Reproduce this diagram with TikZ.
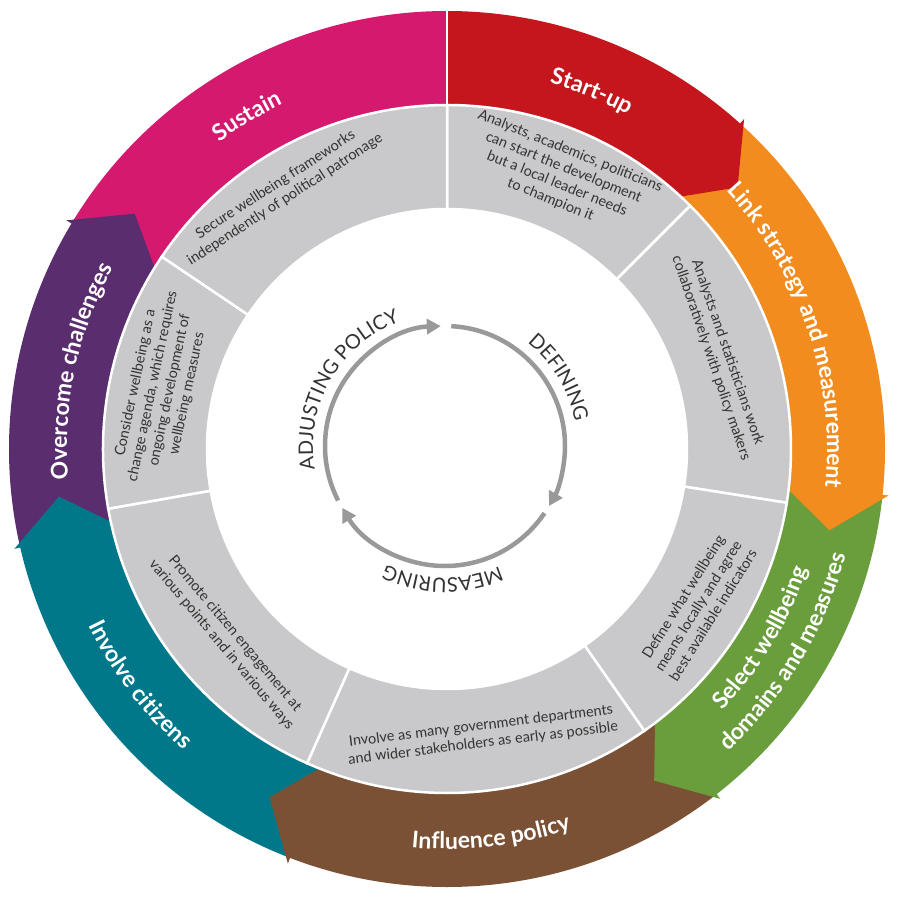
\documentclass[tikz,border=0pt]{standalone}
\usepackage{fontspec}
\setmainfont{Lato}
\usetikzlibrary{decorations.text,arrows.meta}
\definecolor{csus}{HTML}{D4196E}
\definecolor{cstart}{HTML}{C4161C}
\definecolor{clink}{HTML}{F28C1E}
\definecolor{csel}{HTML}{6A9E3C}
\definecolor{cinf}{HTML}{7A5135}
\definecolor{cinv}{HTML}{00788A}
\definecolor{cover}{HTML}{5A2D6E}
\definecolor{cgrey}{HTML}{C9C9CB}
\definecolor{ccirc}{HTML}{999999}
\definecolor{ctxt}{HTML}{333333}
\newcommand\labfont{\fontsize{23}{26}\selectfont\bfseries}
\newcommand\cenfont{\fontsize{20}{22}\selectfont}
% segment with head: start a, boundary b
\newcommand\segh[3]{\fill[#3] ({#1}:438pt) arc[start angle={#1},end angle={#2+3},radius=438pt] -- ({#2+3}:444pt) -- ({#2-3}:391pt) -- ({#2+3}:338pt) -- ({#2+3}:344pt) arc[start angle={#2+3},end angle={#1},radius=344pt] -- cycle;}
\newcommand\greyseg[2]{\filldraw[cgrey,draw=white,line width=2.5pt] ({#1}:344pt) arc[start angle={#1},end angle={#2},radius=344pt] -- ({#2}:240pt) arc[start angle={#2},end angle={#1},radius=240pt] -- cycle;}
\newcommand\cwlab[4]{\path[decorate,decoration={text along path,text align=center,text color=white,text={|\labfont|#4}}] ({#1+#2}:#3pt) arc[start angle={#1+#2},end angle={#1-#2},radius=#3pt];}
\newcommand\ccwlab[4]{\path[decorate,decoration={text along path,text align=center,text color=white,text={|\labfont|#4}}] ({#1-#2}:#3pt) arc[start angle={#1-#2},end angle={#1+#2},radius=#3pt];}
\newcommand\cenlab[4]{\path[decorate,decoration={text along path,text align=center,text color=ctxt,text={|\cenfont|#4}}] ({#1+#2}:#3pt) arc[start angle={#1+#2},end angle={#1-#2},radius=#3pt];}
\tikzset{gtext/.style={align=center,text=ctxt,font=\fontsize{14.5}{17.5}\selectfont,inner sep=0pt}}
\begin{document}
\begin{tikzpicture}
\useasboundingbox[fill=white] (-447pt,-448pt) rectangle (452pt,449pt);
% coloured ring, bottom to top
\fill[csus] (-211:438pt) arc[start angle=-211,end angle=-270,radius=438pt] -- (90:344pt) arc[start angle=-270,end angle=-211,radius=344pt] -- cycle;
\segh{-167}{-214}{cover}
\segh{-111}{-170}{cinv}
\segh{-52}{-114}{cinf}
\segh{-6}{-55}{csel}
\segh{48}{-9}{clink}
\segh{90}{45}{cstart}
\draw[white,line width=2pt] (90:342pt) -- (90:440pt);
% grey ring
\greyseg{90}{45}
\greyseg{45}{-9}
\greyseg{-9}{-55}
\greyseg{-55}{-114}
\greyseg{-114}{-170}
\greyseg{-170}{-214}
\greyseg{-214}{-270}
% coloured labels
\cwlab{68}{30}{380}{Start-up}
\cwlab{18.5}{40}{380}{Link strategy and measurement}
\ccwlab{-31}{30}{380}{Select wellbeing}
\ccwlab{-31}{30}{413}{domains and measures}
\ccwlab{-83.5}{30}{400}{Influence policy}
\ccwlab{-142.5}{30}{400}{Involve citizens}
\cwlab{168}{30}{380}{Overcome challenges}
\cwlab{121}{25}{382}{Sustain}
% grey texts
\node[gtext,rotate=33] (t1) at (123:306pt) {Secure wellbeing frameworks\\independently of political patronage};
\node[gtext,rotate=-22] (t2) at (67.5:296pt) {Analysts, academics, politicians\\can start the development\\but a local leader needs\\to champion it};
\node[gtext,rotate=-71] (t3) at (19:288pt) {Analysts and statisticians work\\collaboratively with policy makers};
\node[gtext,rotate=58] (t4) at (-32:296pt) {Define what wellbeing\\means locally and agree\\best available indicators};
\node[gtext,rotate=7] (t5) at (-83:288pt) {Involve as many government departments\\and wider stakeholders as early as possible};
\node[gtext,rotate=-50] (t6) at (-139:290pt) {Promote citizen engagement at\\various points and in various ways};
\node[gtext,rotate=78] (t7) at (168:292pt) {Consider wellbeing as a\\change agenda, which requires\\ongoing development of\\wellbeing measures};
% centre cycle
\begin{scope}[shift={(-2pt,3pt)}]
\coordinate (cc) at (0,0);
\draw[ccirc,line width=4.5pt,-{Triangle[length=14pt,width=15pt]}] (207:120pt) arc[start angle=207,end angle=92,radius=120pt];
\draw[ccirc,line width=4.5pt,-{Triangle[length=14pt,width=15pt]}] (87:120pt) arc[start angle=87,end angle=-30,radius=120pt];
\draw[ccirc,line width=4.5pt,-{Triangle[length=14pt,width=15pt]}] (-34:120pt) arc[start angle=-34,end angle=-149,radius=120pt];
\cenlab{150}{50}{132}{ADJUSTING POLICY}
\cenlab{31}{35}{132}{DEFINING}
\cenlab{-91}{35}{132}{MEASURING}
\end{scope}
\end{tikzpicture}
\end{document}
